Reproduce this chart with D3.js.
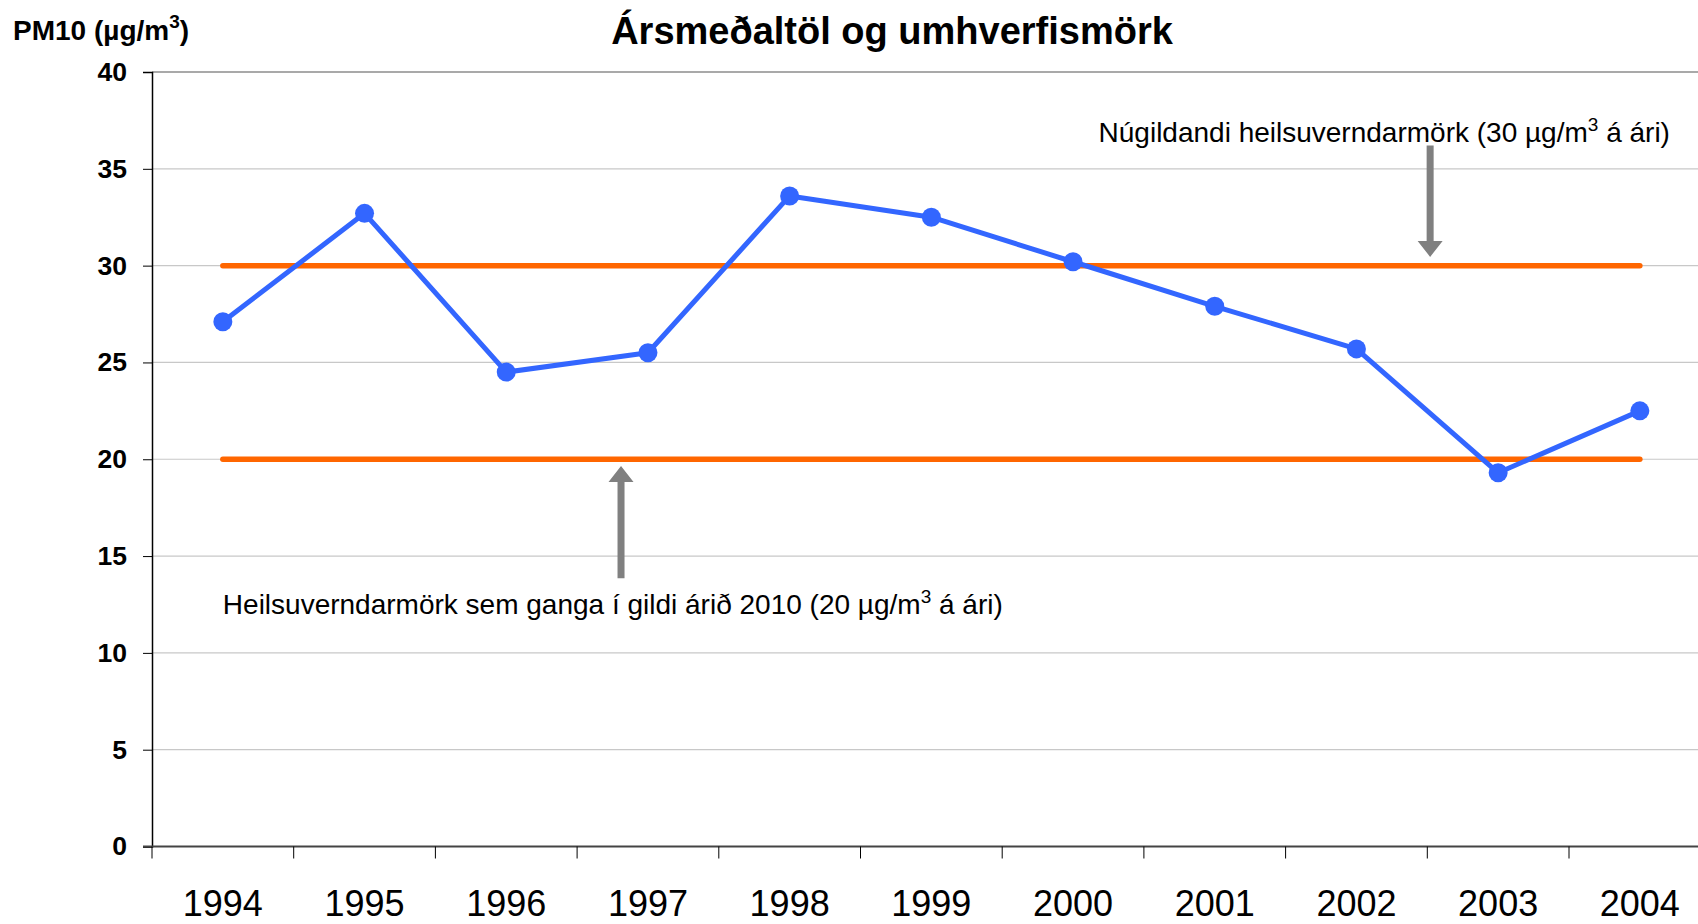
<!DOCTYPE html>
<html>
<head>
<meta charset="utf-8">
<script src="https://cdn.jsdelivr.net/npm/d3@7"></script>
<style>
  body { margin: 0; background: #fff; }
  svg { display: block; font-family: "Liberation Sans", Arial, sans-serif; }
</style>
</head>
<body>
<div id="chart"></div>
<script>
var years = ["1994", "1995", "1996", "1997", "1998", "1999", "2000", "2001", "2002", "2003", "2004"];
var pm10 = [27.1, 32.7, 24.5, 25.5, 33.6, 32.5, 30.2, 27.9, 25.7, 19.3, 22.5];
var limitNow = [30, 30, 30, 30, 30, 30, 30, 30, 30, 30, 30];
var limit2010 = [20, 20, 20, 20, 20, 20, 20, 20, 20, 20, 20];
var yTicks = [0, 5, 10, 15, 20, 25, 30, 35, 40];

// annotations: x as category index (fractional), y in µg/m3
var arrows = [
  {x: 8.52, from: 36.2, to: 30.45},
  {x: 2.81, from: 13.85, to: 19.65}
];
var notes = [
  {x: 6.18, y: 36.4, text: "Núgildandi heilsuverndarmörk (30 µg/m", sup: "3", after: " á ári)"},
  {x: 0, y: 12.0, text: "Heilsuverndarmörk sem ganga í gildi árið 2010 (20 µg/m", sup: "3", after: " á ári)"}
];

var width = 1698,
    height = 924;

var svg = d3.select("#chart").append("svg")
    .attr("width", width)
    .attr("height", height);

var x = d3.scaleBand()
    .domain(years)
    .range([152, 152 + 141.7 * years.length]);

// fractional index -> pixel (center of band)
var xi = d3.scaleLinear()
    .domain([0, years.length - 1])
    .range([x(years[0]) + x.bandwidth() / 2, x(years[years.length - 1]) + x.bandwidth() / 2]);

var y = d3.scaleLinear()
    .domain([0, 40])
    .range([846.5, 72]);

// gridlines
svg.append("g")
  .selectAll("line")
  .data(yTicks.filter(function(d) { return d > 0; }))
  .enter().append("line")
    .attr("x1", 152)
    .attr("x2", width)
    .attr("y1", function(d) { return y(d); })
    .attr("y2", function(d) { return y(d); })
    .attr("stroke", function(d) { return d == 40 ? "#8c8c8c" : "#c8c8c8"; })
    .attr("stroke-width", function(d) { return d == 40 ? 1.5 : 1.2; });

// y axis
var yAxis = svg.append("g")
    .attr("transform", "translate(152,0)")
    .call(d3.axisLeft(y).tickValues(yTicks).tickSize(9).tickPadding(16));
yAxis.select(".domain").attr("stroke", "#000").attr("stroke-width", 1.5);
yAxis.selectAll(".tick line").attr("stroke", "#000");
yAxis.selectAll("text")
    .attr("font-family", "Liberation Sans, Arial, sans-serif")
    .attr("font-size", 26.5)
    .attr("font-weight", "bold")
    .attr("fill", "#000");

// x axis
var xAxis = svg.append("g")
    .attr("transform", "translate(0," + y(0) + ")")
    .call(d3.axisBottom(x).tickSize(0).tickPadding(0));
xAxis.select(".domain").remove();
xAxis.selectAll("text")
    .attr("font-family", "Liberation Sans, Arial, sans-serif")
    .attr("font-size", 36)
    .attr("fill", "#000")
    .attr("dy", 0)
    .attr("y", 69);

svg.append("line")
    .attr("x1", 143)
    .attr("x2", width)
    .attr("y1", y(0))
    .attr("y2", y(0))
    .attr("stroke", "#444")
    .attr("stroke-width", 2.2);

svg.append("g")
  .selectAll("line")
  .data(years)
  .enter().append("line")
    .attr("x1", function(d) { return x(d); })
    .attr("x2", function(d) { return x(d); })
    .attr("y1", y(0))
    .attr("y2", y(0) + 12)
    .attr("stroke", "#000")
    .attr("stroke-width", 1);

// limit lines
var line = d3.line()
    .x(function(d, i) { return x(years[i]) + x.bandwidth() / 2; })
    .y(function(d) { return y(d); });

[limitNow, limit2010].forEach(function(s) {
  svg.append("path")
      .datum(s)
      .attr("d", line)
      .attr("fill", "none")
      .attr("stroke", "#ff6600")
      .attr("stroke-width", 5.5)
      .attr("stroke-linecap", "round");
});

// PM10 series
svg.append("path")
    .datum(pm10)
    .attr("d", line)
    .attr("fill", "none")
    .attr("stroke", "#3366ff")
    .attr("stroke-width", 5)
    .attr("stroke-linejoin", "round");

svg.append("g")
  .selectAll("circle")
  .data(pm10)
  .enter().append("circle")
    .attr("cx", function(d, i) { return x(years[i]) + x.bandwidth() / 2; })
    .attr("cy", function(d) { return y(d); })
    .attr("r", 9.5)
    .attr("fill", "#3366ff");

// arrows
svg.append("g")
  .selectAll("path")
  .data(arrows)
  .enter().append("path")
    .attr("fill", "#808080")
    .attr("d", function(a) {
      var cx = xi(a.x), y0 = y(a.from), y1 = y(a.to);
      var dir = y1 > y0 ? 1 : -1;
      var hb = y1 - dir * 16;
      return "M" + (cx - 3.5) + "," + y0 +
        "L" + (cx + 3.5) + "," + y0 +
        "L" + (cx + 3.5) + "," + hb +
        "L" + (cx + 12.5) + "," + hb +
        "L" + cx + "," + y1 +
        "L" + (cx - 12.5) + "," + hb +
        "L" + (cx - 3.5) + "," + hb + "Z";
    });

// notes
notes.forEach(function(n) {
  var t = svg.append("text")
      .attr("x", xi(n.x))
      .attr("y", y(n.y))
      .attr("font-size", 28)
      .attr("fill", "#000");
  t.append("tspan").text(n.text);
  t.append("tspan").attr("dy", -11).attr("font-size", 19).text(n.sup);
  t.append("tspan").attr("dy", 11).text(n.after);
});

// y axis title
var yt = svg.append("text")
    .attr("x", 13)
    .attr("y", 40)
    .attr("font-size", 28)
    .attr("font-weight", "bold")
    .attr("fill", "#000");
yt.append("tspan").text("PM10 (µg/m");
yt.append("tspan").attr("dy", -12).attr("font-size", 19).text("3");
yt.append("tspan").attr("dy", 12).text(")");

// title
svg.append("text")
    .attr("x", 892)
    .attr("y", 43.5)
    .attr("text-anchor", "middle")
    .attr("font-size", 38)
    .attr("font-weight", "bold")
    .attr("fill", "#000")
    .text("Ársmeðaltöl og umhverfismörk");
</script>
</body>
</html>
